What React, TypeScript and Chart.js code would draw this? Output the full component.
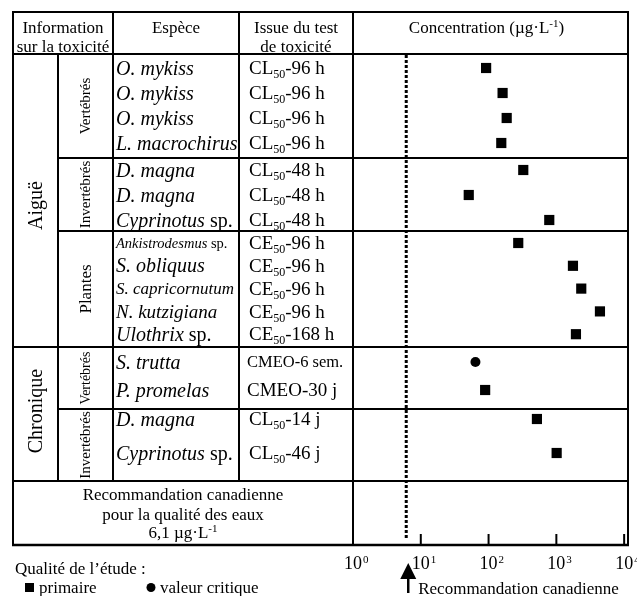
import React, { useEffect, useRef } from "react";
import { Chart, registerables } from "chart.js";
Chart.register(...registerables);

// ---------- DATA ----------
const species = [
  "O. mykiss", "O. mykiss", "O. mykiss", "L. macrochirus",
  "D. magna", "D. magna", "Cyprinotus sp.",
  "Ankistrodesmus sp.", "S. obliquus", "S. capricornutum", "N. kutzigiana", "Ulothrix sp.",
  "S. trutta", "P. promelas",
  "D. magna", "Cyprinotus sp.",
];
const endpoints = [
  "CL_50-96 h", "CL_50-96 h", "CL_50-96 h", "CL_50-96 h",
  "CL_50-48 h", "CL_50-48 h", "CL_50-48 h",
  "CE_50-96 h", "CE_50-96 h", "CE_50-96 h", "CE_50-96 h", "CE_50-168 h",
  "CMEO-6 sem.", "CMEO-30 j",
  "CL_50-14 j", "CL_50-46 j",
];
const concentrations = [92, 161, 185, 154, 325, 51, 786, 274, 1757, 2330, 4396, 1945, 64, 89, 517, 1010];
const studyQuality = [
  "primaire", "primaire", "primaire", "primaire",
  "primaire", "primaire", "primaire",
  "primaire", "primaire", "primaire", "primaire", "primaire",
  "critique", "primaire",
  "primaire", "primaire",
];
const groupOfRow = [0, 0, 0, 0, 1, 1, 1, 2, 2, 2, 2, 2, 3, 3, 4, 4];
const groupLabels = ["Vertébrés", "Invertébrés", "Plantes", "Vertébrés", "Invertébrés"];
const exposureOfGroup = [0, 0, 0, 1, 1];
const exposureLabels = ["Aiguë", "Chronique"];
const guideline = 6.1;
const tickExponents = [0, 1, 2, 3, 4];

// ---------- LAYOUT (styles, not data) ----------
const W = 637, H = 596;
const TABLE_TOP = 12;
const HEADER_BOTTOM = 54;
const TABLE_BOTTOM = 545;
const COL = [13, 58, 113, 239, 353, 628];
const X_MAX = 11400;
const groupLayout = [
  { height: 104, first: 14, step: 25, font: 15 },
  { height: 73, first: 12, step: 25, font: 15 },
  { height: 116, first: 12, step: 22.8, font: 17 },
  { height: 62, first: 15, step: 28, font: 14 },
  { height: 72, first: 10, step: 34, font: 15 },
];
const speciesSize: Record<number, number> = { 7: 14.5, 9: 17, 10: 19 };
const endpointSize: Record<number, number> = { 12: 16.5 };
const SERIF = '"Liberation Serif", "Times New Roman", serif';

type Part = { t: string; size: number; italic?: boolean; dy?: number };

function fontOf(p: Part) {
  return `${p.italic ? "italic " : ""}${p.size}px ${SERIF}`;
}
function drawParts(ctx: CanvasRenderingContext2D, parts: Part[], x: number, baseline: number, align: "left" | "center") {
  const widths = parts.map((p) => { ctx.font = fontOf(p); return ctx.measureText(p.t).width; });
  const total = widths.reduce((a, b) => a + b, 0);
  let cx = align === "center" ? x - total / 2 : x;
  ctx.textAlign = "left";
  ctx.textBaseline = "alphabetic";
  parts.forEach((p, i) => {
    ctx.font = fontOf(p);
    ctx.fillText(p.t, cx, baseline + (p.dy || 0));
    cx += widths[i];
  });
}
function drawRotated(ctx: CanvasRenderingContext2D, text: string, x: number, y: number, size: number) {
  ctx.save();
  ctx.translate(x, y);
  ctx.rotate(-Math.PI / 2);
  ctx.font = `${size}px ${SERIF}`;
  ctx.textAlign = "center";
  ctx.textBaseline = "middle";
  ctx.fillText(text, 0, 0);
  ctx.restore();
}
function line(ctx: CanvasRenderingContext2D, x1: number, y1: number, x2: number, y2: number) {
  ctx.beginPath();
  ctx.moveTo(x1, y1);
  ctx.lineTo(x2, y2);
  ctx.stroke();
}

// row positions (in y-scale units, measured from the header bottom)
const groupTops: number[] = [];
const rowY: number[] = [];
{
  let top = 0;
  groupLayout.forEach((g, gi) => {
    groupTops.push(top);
    let k = 0;
    groupOfRow.forEach((grp, r) => {
      if (grp === gi) { rowY[r] = top + g.first + k * g.step; k++; }
    });
    top += g.height;
  });
  groupTops.push(top);
}
const Y_MAX = TABLE_BOTTOM - HEADER_BOTTOM;

const tablePlugin = {
  id: "tablePlugin",
  beforeDatasetsDraw(chart: any) {
    const ctx: CanvasRenderingContext2D = chart.ctx;
    const xs = chart.scales.x;
    const ys = chart.scales.y;
    const py = (v: number) => ys.getPixelForValue(v);
    ctx.save();
    ctx.fillStyle = "#000";
    ctx.strokeStyle = "#000";
    ctx.lineWidth = 2;
    ctx.lineCap = "butt";

    const recTop = py(groupTops[groupTops.length - 1]);
    const bottom = py(Y_MAX);
    // outer border
    line(ctx, COL[0] - 1, TABLE_TOP, COL[5] + 1, TABLE_TOP);
    line(ctx, COL[0], TABLE_TOP, COL[0], bottom);
    line(ctx, COL[5], TABLE_TOP, COL[5], bottom);
    ctx.lineWidth = 2.5;
    line(ctx, COL[0] - 1, bottom, COL[5] + 1, bottom);
    ctx.lineWidth = 2;
    // header bottom
    line(ctx, COL[0], HEADER_BOTTOM, COL[5], HEADER_BOTTOM);
    // vertical columns
    line(ctx, COL[1], HEADER_BOTTOM, COL[1], recTop);
    line(ctx, COL[2], TABLE_TOP, COL[2], recTop);
    line(ctx, COL[3], TABLE_TOP, COL[3], recTop);
    line(ctx, COL[4], TABLE_TOP, COL[4], bottom);
    // group separators
    for (let g = 1; g < groupLayout.length; g++) {
      const y = py(groupTops[g]);
      const startX = exposureOfGroup[g] !== exposureOfGroup[g - 1] ? COL[0] : COL[1];
      line(ctx, startX, y, COL[5], y);
    }
    line(ctx, COL[0], recTop, COL[5], recTop);

    // header text
    drawParts(ctx, [{ t: "Information", size: 17 }], (COL[0] + COL[2]) / 2, 33, "center");
    drawParts(ctx, [{ t: "sur la toxicité", size: 17 }], (COL[0] + COL[2]) / 2, 52, "center");
    drawParts(ctx, [{ t: "Espèce", size: 17 }], (COL[2] + COL[3]) / 2, 33, "center");
    drawParts(ctx, [{ t: "Issue du test", size: 17 }], (COL[3] + COL[4]) / 2, 33, "center");
    drawParts(ctx, [{ t: "de toxicité", size: 17 }], (COL[3] + COL[4]) / 2, 52, "center");
    drawParts(ctx, [
      { t: "Concentration (µg·L", size: 17 },
      { t: "-1", size: 11, dy: -6 },
      { t: ")", size: 17 },
    ], (COL[4] + COL[5]) / 2 - 4, 33, "center");

    // exposure labels (rotated)
    exposureLabels.forEach((lab, e) => {
      const gs = exposureOfGroup.map((x, i) => (x === e ? i : -1)).filter((i) => i >= 0);
      const y0 = py(groupTops[gs[0]]);
      const y1 = py(groupTops[gs[gs.length - 1] + 1]);
      drawRotated(ctx, lab, (COL[0] + COL[1]) / 2 + 1, (y0 + y1) / 2 + (e === 0 ? 5 : -3), 20);
    });
    // group labels (rotated)
    groupLabels.forEach((lab, g) => {
      const y0 = py(groupTops[g]);
      const y1 = py(groupTops[g + 1]);
      drawRotated(ctx, lab, (COL[1] + COL[2]) / 2 + 1, (y0 + y1) / 2, groupLayout[g].font);
    });

    // rows
    species.forEach((sp, r) => {
      const y = py(rowY[r]);
      const size = speciesSize[r] || 20;
      const base = y + size * 0.33;
      const parts: Part[] = sp.endsWith(" sp.")
        ? [{ t: sp.slice(0, -4), size, italic: true }, { t: " sp.", size }]
        : [{ t: sp, size, italic: true }];
      drawParts(ctx, parts, COL[2] + 3, base, "left");

      const ep = endpoints[r];
      const es = endpointSize[r] || 19;
      const eb = y + es * 0.33;
      const m = ep.match(/^(.*?)_(\d+)(.*)$/);
      const eparts: Part[] = m
        ? [{ t: m[1], size: es }, { t: m[2], size: 12, dy: 4 }, { t: m[3], size: es }]
        : [{ t: ep, size: es }];
      drawParts(ctx, eparts, COL[3] + (m ? 10 : 8), eb, "left");
    });

    // recommendation row
    const recMidX = (COL[0] + COL[4]) / 2;
    drawParts(ctx, [{ t: "Recommandation canadienne", size: 17 }], recMidX, recTop + 19, "center");
    drawParts(ctx, [{ t: "pour la qualité des eaux", size: 17 }], recMidX, recTop + 39, "center");
    drawParts(ctx, [{ t: "6,1 µg·L", size: 17 }, { t: "-1", size: 11, dy: -6 }], recMidX, recTop + 57, "center");

    // dotted guideline
    const gx = xs.getPixelForValue(guideline);
    ctx.save();
    ctx.lineWidth = 3;
    ctx.setLineDash([3, 2]);
    line(ctx, gx, HEADER_BOTTOM + 1, gx, bottom - 7);
    ctx.restore();

    // ticks and labels
    tickExponents.forEach((e) => {
      const tx = xs.getPixelForValue(Math.pow(10, e));
      if (e > 0) { ctx.lineWidth = 2; line(ctx, tx, bottom, tx, bottom - 11); }
      ctx.font = `18px ${SERIF}`;
      ctx.textAlign = "center";
      ctx.textBaseline = "alphabetic";
      ctx.fillText("10", tx, bottom + 24);
      const w = ctx.measureText("10").width;
      ctx.font = `11px ${SERIF}`;
      ctx.textAlign = "left";
      ctx.fillText(String(e), tx + w / 2 + 1, bottom + 18);
    });

    // arrow
    ctx.lineWidth = 2.5;
    line(ctx, gx + 2, bottom + 31, gx + 2, bottom + 48);
    ctx.beginPath();
    ctx.moveTo(gx + 2, bottom + 18);
    ctx.lineTo(gx + 2 - 8, bottom + 34);
    ctx.lineTo(gx + 2 + 8, bottom + 34);
    ctx.closePath();
    ctx.fill();
    drawParts(ctx, [{ t: "Recommandation canadienne", size: 17 }], gx + 12, bottom + 49, "left");

    // legend
    drawParts(ctx, [{ t: "Qualité de l’étude :", size: 17 }], 15, 574, "left");
    ctx.fillRect(25, 583, 9, 9);
    drawParts(ctx, [{ t: "primaire", size: 17 }], 39, 593, "left");
    ctx.beginPath();
    ctx.arc(151, 587.5, 4.5, 0, Math.PI * 2);
    ctx.fill();
    drawParts(ctx, [{ t: "valeur critique", size: 17 }], 160, 593, "left");

    ctx.restore();
  },
};

export default function App() {
  const ref = useRef<HTMLCanvasElement | null>(null);
  useEffect(() => {
    if (!ref.current) return;
    const prim = concentrations
      .map((v, i) => ({ x: v, y: rowY[i], q: studyQuality[i] }))
      .filter((p) => p.q === "primaire");
    const crit = concentrations
      .map((v, i) => ({ x: v, y: rowY[i], q: studyQuality[i] }))
      .filter((p) => p.q === "critique");
    const chart = new Chart(ref.current, {
      type: "scatter",
      data: {
        datasets: [
          { label: "primaire", data: prim, pointStyle: "rect", pointRadius: 7.2, backgroundColor: "#000", borderColor: "#000", borderWidth: 0 },
          { label: "valeur critique", data: crit, pointStyle: "circle", pointRadius: 5, backgroundColor: "#000", borderColor: "#000", borderWidth: 0 },
        ],
      } as any,
      options: {
        responsive: false,
        animation: false,
        devicePixelRatio: 1,
        layout: { padding: { left: COL[4], right: W - COL[5], top: HEADER_BOTTOM, bottom: H - TABLE_BOTTOM } },
        scales: {
          x: { type: "logarithmic", min: 1, max: X_MAX, display: false },
          y: { type: "linear", min: 0, max: Y_MAX, reverse: true, display: false },
        },
        plugins: { legend: { display: false }, tooltip: { enabled: false } },
      },
      plugins: [tablePlugin],
    });
    return () => chart.destroy();
  }, []);
  return (
    <div style={{ position: "absolute", left: 0, top: 0, width: W, height: H, background: "#fff" }}>
      <canvas ref={ref} width={W} height={H} style={{ display: "block" }} />
    </div>
  );
}
